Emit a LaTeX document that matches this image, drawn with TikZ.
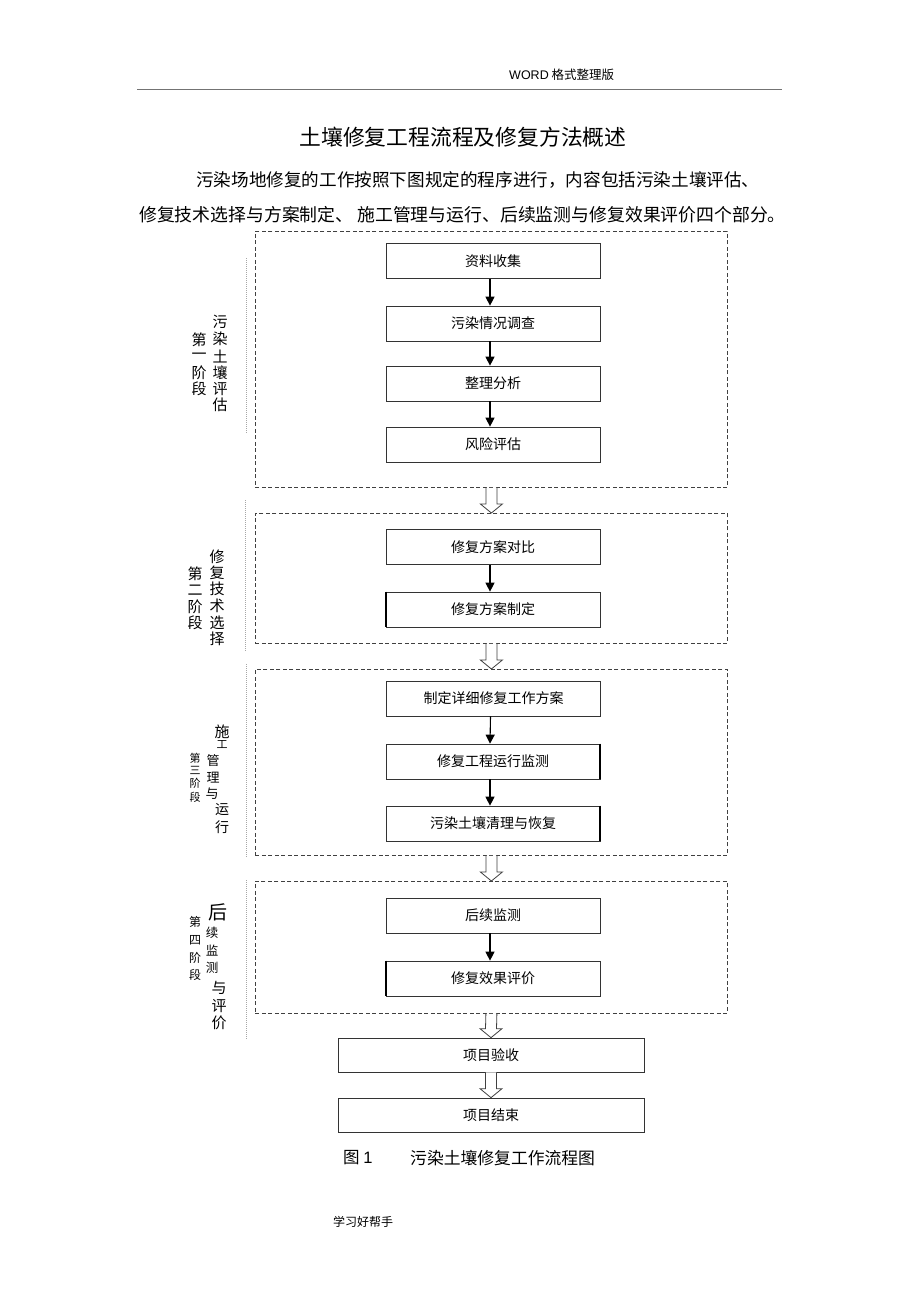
\documentclass[tikz,border=0pt]{standalone}
\usepackage{fontspec}
\setmainfont{Noto Sans CJK SC}
\newfontfamily\latinsans{Liberation Sans}
\usetikzlibrary{calc,arrows.meta}
\newcommand{\fs}[1]{\fontsize{#1}{#1}\selectfont}
\newcommand{\hollowarrow}[2]{%
  \draw[hollowarr] ($(#1.south)+(-5.5,0)$) -- ($(#2.north)+(-5.5,-9)$) -- ($(#2.north)+(-11,-9)$)
     -- (#2.north) -- ($(#2.north)+(11,-9)$) -- ($(#2.north)+(5.5,-9)$) -- ($(#1.south)+(5.5,0)$);}
\newcommand{\steparrow}[2]{\draw[arr] ($(#1.south)+(-3,0)$) -- ($(#2.north)+(-3,0)$);}
\begin{document}
\begin{tikzpicture}[x=1pt,y=-1pt,
  stagebox/.style={draw=black!75, dash pattern=on 4pt off 2.5pt, line width=0.8pt, minimum width=472, inner sep=0, anchor=north west},
  box/.style={draw=black!80, line width=0.7pt, minimum width=214, minimum height=35, inner sep=0, font=\fs{14}},
  bigbox/.style={box, minimum width=306, minimum height=34},
  arr/.style={-{Triangle[length=9pt,width=9pt]}, line width=1.1pt, black},
  hollowarr/.style={draw=black!75, fill=white, line width=0.8pt},
  thickside/.style={line width=1.8pt, black},
  lab/.style={inner sep=0, font=\fs{15}},
  sidebar/.style={draw=black!35, line width=0.6pt, dash pattern=on 1pt off 1pt},
  txt/.style={inner sep=0, anchor=west}
]
\useasboundingbox[fill=white] (0,0) rectangle (920,1303);

% header
\node[txt] (hdr) at (509,75) {\fs{12.5}{\latinsans WORD} 格式整理版};
\coordinate (hl) at (137,89);
\coordinate (hr) at (782,89);
\draw[black!55, line width=0.8pt] (hl) -- (hr);

% title and paragraph
\node[inner sep=0, font=\fs{21.8}] (title) at (463,137) {土壤修复工程流程及修复方法概述};
\node[txt, font=\fs{17.6}] (para1) at (196,180) {污染场地修复的工作按照下图规定的程序进行，内容包括污染土壤评估、};
\node[txt, font=\fs{17.85}] (para2) at (139,215) {修复技术选择与方案制定、 施工管理与运行、后续监测与修复效果评价四个部分。};

% stage boxes
\node[stagebox, minimum height=256] (s1) at (255,231) {};
\node[stagebox, minimum height=130] (s2) at (255,513) {};
\node[stagebox, minimum height=186] (s3) at (255,669) {};
\node[stagebox, minimum height=132] (s4) at (255,881) {};

% step boxes
\node[box] (b1) at (493,261) {资料收集};
\node[box] (b2) at (493,323.5) {污染情况调查};
\node[box] (b3) at (493,383.5) {整理分析};
\node[box] (b4) at (493,444.5) {风险评估};
\node[box] (b5) at (493,547) {修复方案对比};
\node[box] (b6) at (493,609.5) {修复方案制定};
\node[box] (b7) at (493.5,698.5) {制定详细修复工作方案};
\node[box] (b8) at (493,761.5) {修复工程运行监测};
\node[box] (b9) at (493,823.5) {污染土壤清理与恢复};
\node[box] (b10) at (493,915.5) {后续监测};
\node[box] (b11) at (493,978.5) {修复效果评价};
\node[bigbox] (b12) at (491,1055) {项目验收};
\node[bigbox] (b13) at (491,1115) {项目结束};

% thicker sides
\draw[thickside] (b6.north west) -- (b6.south west);
\draw[thickside] (b8.north east) -- (b8.south east);
\draw[thickside] (b9.north east) -- (b9.south east);
\draw[thickside] (b11.north west) -- (b11.south west);

% arrows inside stages
\steparrow{b1}{b2}
\steparrow{b2}{b3}
\steparrow{b3}{b4}
\steparrow{b5}{b6}
\steparrow{b7}{b8}
\steparrow{b8}{b9}
\steparrow{b10}{b11}

% hollow arrows between stages
\hollowarrow{s1}{s2}
\hollowarrow{s2}{s3}
\hollowarrow{s3}{s4}
\hollowarrow{s4}{b12}
\hollowarrow{b12}{b13}

% side bars
\coordinate (v1a) at (246,258); \coordinate (v1b) at (246,433);
\coordinate (v2a) at (245,500); \coordinate (v2b) at (245,652);
\coordinate (v3a) at (246,664); \coordinate (v3b) at (246,857);
\coordinate (v4a) at (246,880); \coordinate (v4b) at (246,1040);
\draw[sidebar] (v1a) -- (v1b);
\draw[sidebar] (v2a) -- (v2b);
\draw[sidebar] (v3a) -- (v3b);
\draw[sidebar] (v4a) -- (v4b);

% stage 1 labels
\foreach \c/\y [count=\i] in {第/340,一/356,阶/373,段/389}
  \node[lab] (p1l\i) at (199,\y) {\c};
\foreach \c/\y [count=\i] in {污/322,染/339,土/356,壤/373,评/389,估/405}
  \node[lab] (p1r\i) at (220,\y) {\c};

% stage 2 labels
\foreach \c/\y [count=\i] in {第/574,二/590,阶/607,段/623}
  \node[lab] (p2l\i) at (195,\y) {\c};
\foreach \c/\y [count=\i] in {修/557,复/573,技/589,术/606,选/623,择/639}
  \node[lab] (p2r\i) at (217,\y) {\c};

% stage 3 labels
\foreach \c/\y [count=\i] in {第/758,三/770,阶/783,段/797}
  \node[lab, font=\fs{11}] (p3l\i) at (195,\y) {\c};
\node[lab] (p3r1) at (222,732) {施};
\node[lab, font=\fs{11}] (p3r2) at (222,745) {工};
\node[lab, font=\fs{13}] (p3r3) at (213,761) {管};
\node[lab, font=\fs{13}] (p3r4) at (213,778) {理};
\node[lab, font=\fs{13}] (p3r5) at (212,794) {与};
\node[lab, font=\fs{14}] (p3r6) at (222,810) {运};
\node[lab, font=\fs{14}] (p3r7) at (222,827) {行};

% stage 4 labels
\foreach \c/\y [count=\i] in {第/922,四/940,阶/958,段/975}
  \node[lab, font=\fs{12}] (p4l\i) at (195,\y) {\c};
\node[lab, font=\fs{19}] (p4r1) at (218,912) {后};
\node[lab, font=\fs{12.5}] (p4r2) at (212,933) {续};
\node[lab, font=\fs{12.5}] (p4r3) at (212,951) {监};
\node[lab, font=\fs{12.5}] (p4r4) at (212,968) {测};
\node[lab] (p4r5) at (219,988) {与};
\node[lab] (p4r6) at (219,1006) {评};
\node[lab] (p4r7) at (219,1023) {价};

% caption and footer
\node[txt, font=\fs{16.5}] (fig) at (343,1158) {图 {\latinsans 1}};
\node[txt, font=\fs{16.8}] (cap) at (410,1158) {污染土壤修复工作流程图};
\node[txt, font=\fs{12}] (foot) at (333,1222) {学习好帮手};
\end{tikzpicture}
\end{document}
